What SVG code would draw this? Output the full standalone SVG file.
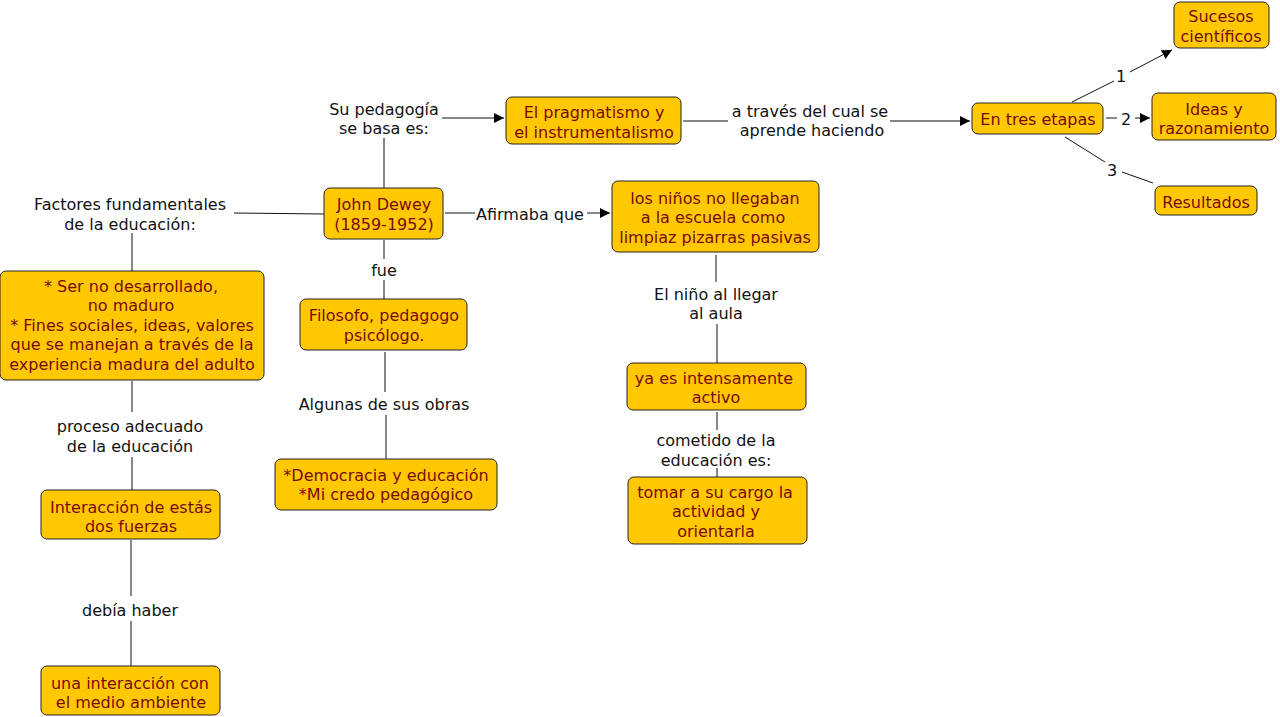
<svg xmlns="http://www.w3.org/2000/svg" width="1280" height="717" viewBox="0 0 1280 717">
<style>
.n rect{fill:#ffc800;stroke:#222;stroke-width:1}
.n text{fill:#7a0a0a}
text{font-family:"DejaVu Sans",Verdana,sans-serif;font-size:16px;text-anchor:middle;dominant-baseline:central}
.l{fill:#111}
.c line{stroke:#111;stroke-width:1;fill:none}
.c .a{marker-end:url(#ar)}
</style>
<defs>
<marker id="ar" viewBox="0 0 10 10" refX="10" refY="5" markerWidth="10" markerHeight="10" markerUnits="userSpaceOnUse" orient="auto">
<path d="M0,0 L10,5 L0,10 z" fill="#000"/>
</marker>
</defs>
<rect width="1280" height="717" fill="#fff"/>
<g class="c" id="connectors">
<line x1="384" y1="188" x2="384" y2="138"/>
<line class="a" x1="442" y1="118" x2="504" y2="118"/>
<line x1="683" y1="121" x2="728" y2="121"/>
<line class="a" x1="890" y1="121" x2="970" y2="121"/>
<line x1="1072" y1="102" x2="1114" y2="81"/>
<line class="a" x1="1130" y1="72" x2="1172" y2="50"/>
<line x1="1106" y1="118" x2="1117" y2="118"/>
<line class="a" x1="1135" y1="118" x2="1150" y2="118"/>
<line x1="1065" y1="137" x2="1105" y2="162"/>
<line x1="1122" y1="172" x2="1153" y2="183"/>
<line x1="324" y1="214" x2="234" y2="213"/>
<line x1="132" y1="233" x2="132" y2="271"/>
<line x1="132" y1="381" x2="132" y2="412"/>
<line x1="132" y1="457" x2="132" y2="490"/>
<line x1="131" y1="540" x2="131" y2="596"/>
<line x1="131" y1="621" x2="131" y2="666"/>
<line x1="445" y1="213" x2="475" y2="213"/>
<line class="a" x1="587" y1="213" x2="610" y2="213"/>
<line x1="384" y1="240" x2="384" y2="259"/>
<line x1="384" y1="280" x2="384" y2="299"/>
<line x1="385" y1="352" x2="385" y2="392"/>
<line x1="386" y1="415" x2="386" y2="459"/>
<line x1="716" y1="255" x2="716" y2="282"/>
<line x1="717" y1="324" x2="717" y2="363"/>
<line x1="717" y1="412" x2="717" y2="430"/>
<line x1="717" y1="468" x2="717" y2="477"/>
</g>
<g class="l" id="labels" transform="translate(0,1)">
<text class="l" x="384" y="108">Su pedagogía</text>
<text class="l" x="384" y="127">se basa es:</text>
<text class="l" x="810" y="110">a través del cual se</text>
<text class="l" x="812" y="129">aprende haciendo</text>
<text class="l" x="130" y="203">Factores fundamentales</text>
<text class="l" x="130" y="223">de la educación:</text>
<text class="l" x="530" y="213">Afirmaba que</text>
<text class="l" x="384" y="269">fue</text>
<text class="l" x="384" y="403">Algunas de sus obras</text>
<text class="l" x="130" y="425">proceso adecuado</text>
<text class="l" x="130" y="445">de la educación</text>
<text class="l" x="130" y="609">debía haber</text>
<text class="l" x="716" y="293">El niño al llegar</text>
<text class="l" x="716" y="312">al aula</text>
<text class="l" x="716" y="439">cometido de la</text>
<text class="l" x="716" y="459">educación es:</text>
<text class="l" x="1121" y="75">1</text>
<text class="l" x="1126" y="118">2</text>
<text class="l" x="1112" y="169">3</text>
</g>
<g class="n" id="sucesos"><rect x="1174" y="2" width="95" height="46" rx="6"/><text x="1221" y="16">Sucesos</text><text x="1221" y="36">científicos</text></g>
<g class="n" id="ideas"><rect x="1152" y="93" width="124" height="47" rx="6"/><text x="1214" y="109">Ideas y</text><text x="1214" y="128">razonamiento</text></g>
<g class="n" id="resultados"><rect x="1155" y="186" width="102" height="29" rx="6"/><text x="1206" y="202">Resultados</text></g>
<g class="n" id="etapas"><rect x="972" y="103" width="131" height="31" rx="6"/><text x="1038" y="119">En tres etapas</text></g>
<g class="n" id="pragmatismo"><rect x="506" y="97" width="175" height="47" rx="6"/><text x="594" y="112">El pragmatismo y</text><text x="594" y="132">el instrumentalismo</text></g>
<g class="n" id="dewey"><rect x="324" y="188" width="119" height="51" rx="6"/><text x="384" y="204">John Dewey</text><text x="384" y="224">(1859-1952)</text></g>
<g class="n" id="ninos"><rect x="612" y="181" width="207" height="71" rx="6"/><text x="715" y="198">los niños no llegaban</text><text x="713" y="217">a la escuela como</text><text x="715" y="237">limpiaz pizarras pasivas</text></g>
<g class="n" id="filosofo"><rect x="300" y="299" width="167" height="51" rx="6"/><text x="384" y="315">Filosofo, pedagogo</text><text x="384" y="335">psicólogo.</text></g>
<g class="n" id="ser"><rect x="0" y="271" width="264" height="109" rx="6"/><text x="131" y="286">* Ser no desarrollado,</text><text x="131" y="305">no maduro</text><text x="132" y="325">* Fines sociales, ideas, valores</text><text x="132" y="344">que se manejan a través de la</text><text x="132" y="364">experiencia madura del adulto</text></g>
<g class="n" id="interaccion"><rect x="41" y="490" width="179" height="49" rx="6"/><text x="131" y="507">Interacción de estás</text><text x="131" y="526">dos fuerzas</text></g>
<g class="n" id="medio"><rect x="41" y="666" width="179" height="49" rx="6"/><text x="130" y="683">una interacción con</text><text x="131" y="702">el medio ambiente</text></g>
<g class="n" id="obras"><rect x="275" y="459" width="222" height="51" rx="6"/><text x="386" y="475">*Democracia y educación</text><text x="386" y="494">*Mi credo pedagógico</text></g>
<g class="n" id="activo"><rect x="627" y="363" width="179" height="47" rx="6"/><text x="714" y="378">ya es intensamente</text><text x="716" y="397">activo</text></g>
<g class="n" id="tomar"><rect x="628" y="477" width="179" height="67" rx="6"/><text x="715" y="492">tomar a su cargo la</text><text x="716" y="511">actividad y</text><text x="716" y="531">orientarla</text></g>
</svg>
